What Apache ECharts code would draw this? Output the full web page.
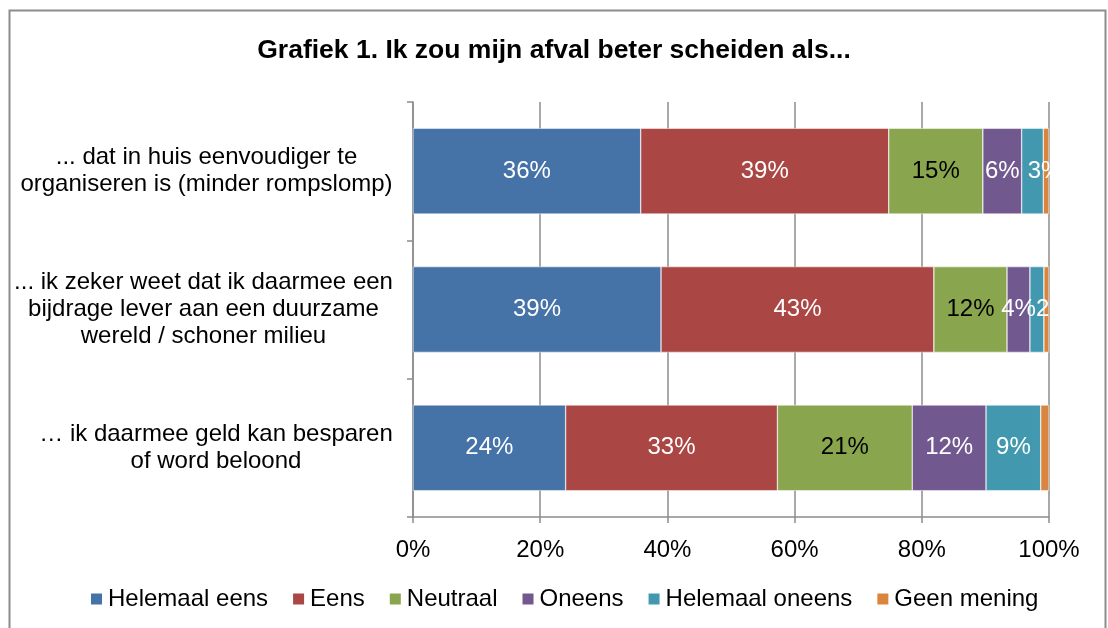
<!DOCTYPE html>
<html>
<head>
<meta charset="utf-8">
<script src="https://cdn.jsdelivr.net/npm/echarts@6/dist/echarts.min.js"></script>
<style>
  html, body { margin: 0; padding: 0; background: #fff; }
  #chart { width: 1108px; height: 628px; }
</style>
</head>
<body>
<div id="chart"></div>
<script>
let categories = [
  '... dat in huis eenvoudiger te\norganiseren is (minder rompslomp)',
  '... ik zeker weet dat ik daarmee een\nbijdrage lever aan een duurzame\nwereld / schoner milieu',
  '… ik daarmee geld kan besparen\nof word beloond'
]
let seriesNames = ['Helemaal eens', 'Eens', 'Neutraal', 'Oneens', 'Helemaal oneens', 'Geen mening']
let helemaalEens = [35.8, 39.0, 24.0]
let eens = [39.0, 42.9, 33.3]
let neutraal = [14.8, 11.5, 21.2]
let oneens = [6.1, 3.6, 11.6]
let helemaalOneens = [3.4, 2.2, 8.6]
let geenMening = [0.9, 0.8, 1.3]
let xTicks = [0, 20, 40, 60, 80, 100]

let colors = ['#4572A7', '#AA4643', '#89A54E', '#71588F', '#4198AF', '#DB843D']
let labelColors = ['#fff', '#fff', '#000', '#fff', '#fff', '#fff']
let values = [helemaalEens, eens, neutraal, oneens, helemaalOneens, geenMening]
let font = 'Liberation Sans, Arial, sans-serif'
let fs = 24

// measure each category block so lines can be centered inside a right-aligned block (like Excel)
let ctx = document.createElement('canvas').getContext('2d')
ctx.font = fs + 'px ' + font
let rich = {}
categories.forEach(function (c, i) {
  let w = Math.max.apply(null, c.split('\n').map(function (l) { return ctx.measureText(l).width }))
  rich['c' + i] = { width: Math.ceil(w), align: 'center', fontSize: fs, lineHeight: 27, color: '#000', fontFamily: font }
})

let grid = { left: 413, right: 59, top: 102, bottom: 111 }

let chart = echarts.init(document.getElementById('chart'))

chart.setOption({
  animation: false,
  textStyle: { fontFamily: font },
  title: {
    text: 'Grafiek 1. Ik zou mijn afval beter scheiden als...',
    left: 'center',
    top: 32,
    textStyle: { fontSize: 26.5, fontWeight: 'bold', color: '#000', fontFamily: font }
  },
  graphic: [{
    // Excel clips data labels at the plot edge
    type: 'rect',
    z: 100,
    shape: { x: 1108 - grid.right + 1, y: grid.top, width: 45, height: 628 - grid.top - grid.bottom - 10 },
    style: { fill: '#fff' },
    silent: true
  }, {
    type: 'rect',
    z: 101,
    shape: { x: 9.5, y: 10.5, width: 1096, height: 650 },
    style: { fill: 'none', stroke: '#8c8c8c', lineWidth: 2 },
    silent: true
  }],
  legend: {
    data: seriesNames,
    top: 587,
    left: 89,
    padding: 0,
    itemWidth: 13,
    itemHeight: 13,
    itemGap: 23,
    icon: 'rect',
    textStyle: { fontSize: fs, color: '#000', fontFamily: font }
  },
  grid: grid,
  xAxis: {
    type: 'value',
    min: xTicks[0],
    max: xTicks[xTicks.length - 1],
    interval: 20,
    axisLabel: { formatter: '{value}%', fontSize: fs, color: '#000', margin: 21 },
    axisLine: { show: true, lineStyle: { color: '#8c8c8c', width: 1.5 } },
    axisTick: { show: true, length: 6, lineStyle: { color: '#8c8c8c', width: 1.5 } },
    splitLine: { show: true, lineStyle: { color: '#8c8c8c', width: 1.5 } }
  },
  yAxis: {
    type: 'category',
    inverse: true,
    data: categories,
    axisLine: { show: true, lineStyle: { color: '#8c8c8c', width: 1.5 } },
    axisTick: { show: true, length: 6, lineStyle: { color: '#8c8c8c', width: 1.5 } },
    axisLabel: {
      fontSize: fs,
      color: '#000',
      align: 'right',
      margin: 20,
      lineHeight: 27,
      rich: rich,
      formatter: function (v, i) {
        return v.split('\n').map(function (l) { return '{c' + i + '|' + l + '}' }).join('\n')
      }
    }
  },
  series: seriesNames.map(function (name, i) {
    return {
      name: name,
      type: 'bar',
      stack: 'total',
      barCategoryGap: '38%',
      data: values[i].map(function (v) {
        // narrow teal segments: label starts at the left edge of the bar
        if (i === 4 && v < 5) return { value: v, label: { position: 'insideLeft', distance: 6 } }
        return v
      }),
      itemStyle: { color: colors[i], borderColor: '#fff', borderWidth: 0.5 },
      label: {
        show: i < 5,
        position: 'inside',
        color: labelColors[i],
        fontSize: fs,
        fontFamily: font,
        formatter: function (p) { return Math.round(p.value) + '%' }
      }
    }
  })
})
</script>
</body>
</html>
